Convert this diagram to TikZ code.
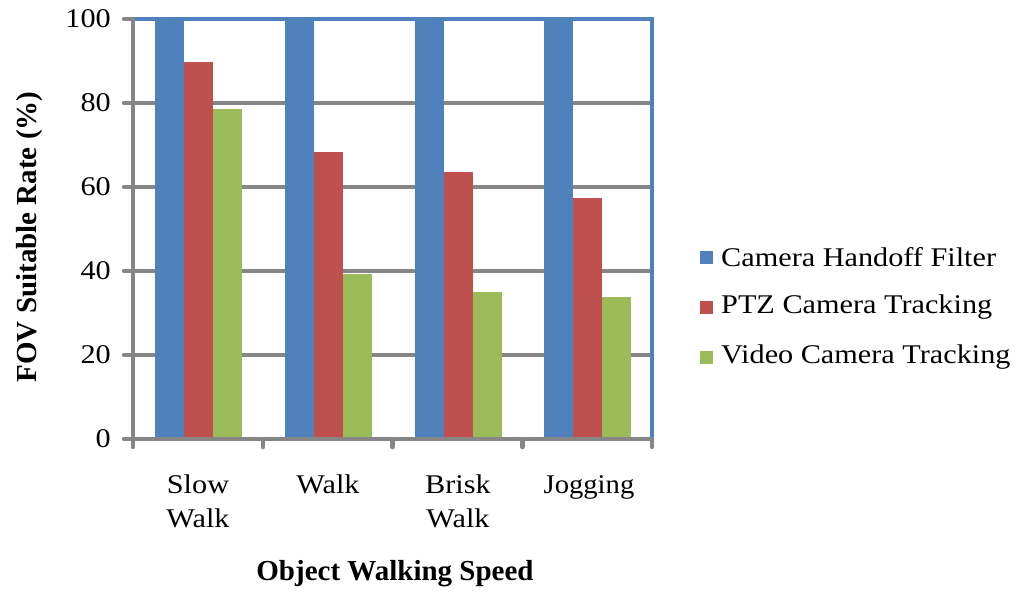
\documentclass[tikz,border=0pt]{standalone}
\usepackage{fontspec}
\setmainfont{Liberation Serif}
\definecolor{barblue}{HTML}{4F81BD}
\definecolor{barred}{HTML}{C0504D}
\definecolor{bargreen}{HTML}{9BBB59}
\definecolor{axisgray}{HTML}{868686}
% regular chart text is set slightly wide
\newcommand\widetext[1]{\scalebox{1.12}[1]{#1}}
\tikzset{
  chartfont/.style={font=\fontsize{27}{34}\selectfont},
  titlefont/.style={font=\fontsize{29}{34}\selectfont\bfseries},
  gridline/.style={axisgray, line width=4.5pt},
  axisline/.style={axisgray, line width=4.5pt, line cap=round},
  frameline/.style={barblue, line width=4.5pt},
  keybox/.style={minimum size=13pt, inner sep=0pt, draw=none},
}
\begin{document}
\begin{tikzpicture}[x=1pt, y=-1pt]
\useasboundingbox (0,0) rectangle (1015,592);

% horizontal gridlines
\foreach \v in {20,40,60,80}
  \draw[gridline] (133,{439-4.2*\v}) -- (652,{439-4.2*\v});

% bars: each group holds three bars of width 29
\foreach \i/\r/\g in {0/89.8/78.6, 1/68.3/39.3, 2/63.6/35.0, 3/57.4/33.7} {
  \pgfmathsetmacro\xl{155+129.75*\i}
  \fill[barblue]  (\xl,439) rectangle ({\xl+29},19);
  \fill[barred]   ({\xl+29},439) rectangle ({\xl+58},{439-4.2*\r});
  \fill[bargreen] ({\xl+58},439) rectangle ({\xl+87},{439-4.2*\g});
}

% plot frame (top and right)
\draw[frameline] (133,19) -- (652,19) -- (652,439);

% axes and tick marks
\draw[axisline] (133,19) -- (133,447);
\draw[axisline] (124,439) -- (652,439);
\foreach \v in {20,40,60,80,100}
  \draw[axisline] (124,{439-4.2*\v}) -- (133,{439-4.2*\v});
\foreach \k in {1,2,3,4}
  \draw[axisline] ({133+129.75*\k},439) -- ({133+129.75*\k},447);

% y tick labels
\foreach \v in {0,20,40,60,80,100}
  \node[chartfont, anchor=east, inner sep=0pt] (ylab\v) at (111,{439-4.2*\v}) {\widetext{\v}};

% category labels
\node[chartfont, align=center, anchor=north, inner sep=0pt] (cat1) at (198,475) {\widetext{Slow}\\\widetext{Walk}};
\node[chartfont, align=center, anchor=north, inner sep=0pt] (cat2) at (328,475) {\widetext{Walk}};
\node[chartfont, align=center, anchor=north, inner sep=0pt] (cat3) at (458,475) {\widetext{Brisk}\\\widetext{Walk}};
\node[chartfont, align=center, anchor=north, inner sep=0pt] (cat4) at (589,475) {\scalebox{1.06}[1]{Jogging}};

% axis titles
\node[titlefont] (xtitle) at (395,574) {Object Walking Speed};
\node[titlefont, rotate=90] (ytitle) at (30,237) {FOV Suitable Rate (\%)};

% legend
\foreach \n/\c/\t/\y in {1/barblue/Camera Handoff Filter/257, 2/barred/PTZ Camera Tracking/307, 3/bargreen/Video Camera Tracking/357} {
  \node[keybox, fill=\c] (key\n) at (706,\y) {};
  \node[chartfont, anchor=west, inner sep=0pt] (keytext\n) at (721,\y) {\widetext{\t}};
}
\end{tikzpicture}
\end{document}
